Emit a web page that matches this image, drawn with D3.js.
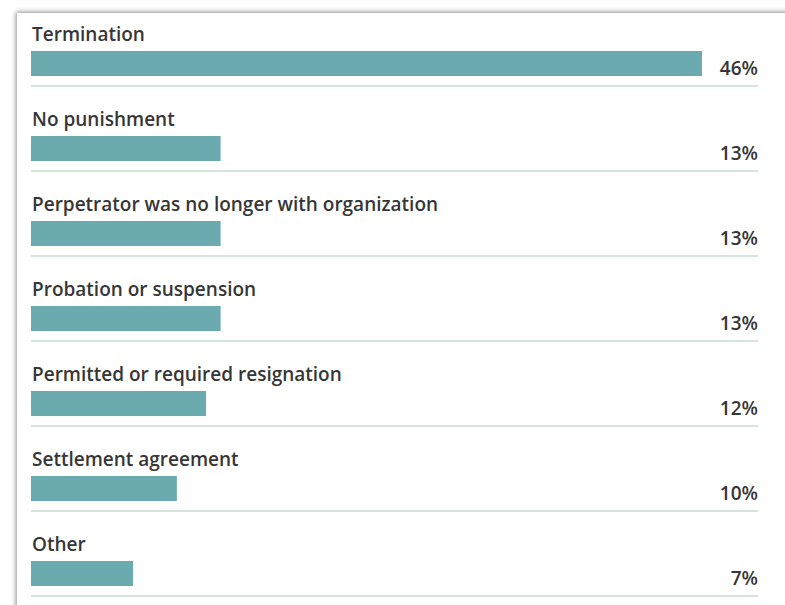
<!DOCTYPE html>
<html>
<head>
<meta charset="utf-8">
<script src="https://cdn.jsdelivr.net/npm/d3@7"></script>
<style>
  body { margin: 0; background: #fff; }
  text { font-family: "Open Sans", Lato, sans-serif; }
</style>
</head>
<body>
<div id="chart"></div>
<script>
// data
var categories = [
  "Termination",
  "No punishment",
  "Perpetrator was no longer with organization",
  "Probation or suspension",
  "Permitted or required resignation",
  "Settlement agreement",
  "Other"
];
var values = [46, 13, 13, 13, 12, 10, 7];

var W = 785, H = 605;
var svg = d3.select("#chart").append("svg")
  .attr("width", W).attr("height", H);

// drop shadow for the card
var defs = svg.append("defs");
var f = defs.append("filter").attr("id", "shadow")
  .attr("x", "-5%").attr("y", "-5%").attr("width", "110%").attr("height", "110%");
f.append("feGaussianBlur").attr("in", "SourceAlpha").attr("stdDeviation", 2.5);
f.append("feOffset").attr("dx", -1).attr("dy", -1).attr("result", "b");
f.append("feComponentTransfer").append("feFuncA").attr("type", "linear").attr("slope", 0.45);
var m = f.append("feMerge");
m.append("feMergeNode");
m.append("feMergeNode").attr("in", "SourceGraphic");

svg.append("rect")
  .attr("x", 17).attr("y", 13)
  .attr("width", W + 20).attr("height", H + 20)
  .attr("fill", "#fff")
  .attr("filter", "url(#shadow)");

var left = 31, right = 758;

var x = d3.scaleLinear().domain([0, 46]).range([left, 702]);
var row = d3.scaleBand().domain(categories).range([13, 13 + 85 * categories.length]);

var g = svg.selectAll("g.row")
  .data(categories.map(function(c, i) { return {name: c, value: values[i]}; }))
  .enter().append("g")
  .attr("class", "row")
  .attr("transform", function(d) { return "translate(0," + row(d.name) + ")"; });

g.append("text")
  .attr("x", 32).attr("y", 28)
  .attr("fill", "#363636")
  .attr("font-size", "19px")
  .attr("font-weight", 600)
  .text(function(d) { return d.name; });

g.append("rect")
  .attr("x", left).attr("y", 38)
  .attr("width", function(d) { return x(d.value) - left; })
  .attr("height", 25)
  .attr("fill", "#6babb0");

g.append("line")
  .attr("x1", left).attr("x2", right)
  .attr("y1", 73).attr("y2", 73)
  .attr("stroke", "#d6e4e0").attr("stroke-width", 2);

g.append("text")
  .attr("x", right).attr("y", 62)
  .attr("text-anchor", "end")
  .attr("fill", "#363636")
  .attr("font-size", "19px")
  .attr("font-weight", 600)
  .text(function(d) { return d.value + "%"; });
</script>
</body>
</html>
